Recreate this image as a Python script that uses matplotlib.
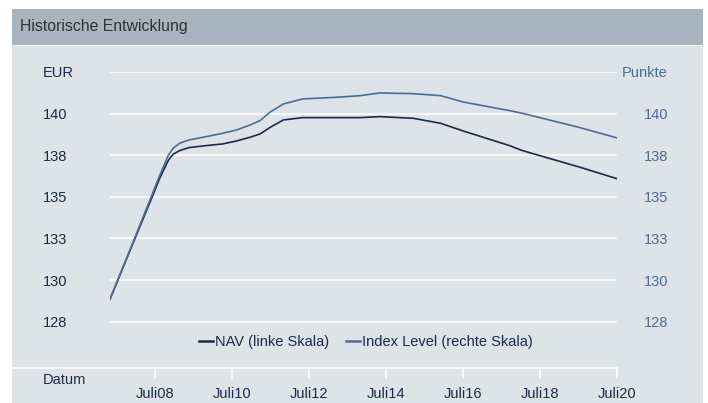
import numpy as np
import pandas as pd
import matplotlib
matplotlib.use('Agg')
import matplotlib.pyplot as plt
from matplotlib.patches import Rectangle
from matplotlib.lines import Line2D

plt.rcParams['font.family'] = ['Liberation Sans', 'DejaVu Sans']

# Data
dates = pd.to_datetime(['2007-05-01', '2007-12-01', '2008-06-01', '2008-08-15', '2008-11-05',
                        '2008-12-20', '2009-02-20', '2009-05-20', '2009-11-01', '2010-04-05',
                        '2010-08-15', '2010-12-20', '2011-03-25', '2011-06-25', '2011-11-01',
                        '2012-05-01', '2013-03-15', '2013-11-01', '2014-05-01', '2015-03-15',
                        '2015-12-01', '2016-07-01', '2017-09-15', '2018-01-15', '2019-07-15',
                        '2020-07-01'])
nav = [128.85, 132.15, 134.95, 136.12, 137.2, 137.56, 137.78, 137.96, 138.08, 138.18,
       138.36, 138.58, 138.78, 139.16, 139.62, 139.76, 139.76, 139.76, 139.82, 139.72,
       139.42, 138.96, 138.08, 137.78, 136.78, 136.09]
index_level = [128.85, 132.2, 135.1, 136.3, 137.5, 137.92, 138.22, 138.42, 138.62, 138.82,
               139.02, 139.32, 139.58, 140.08, 140.58, 140.88, 140.98, 141.08, 141.24, 141.2,
               141.08, 140.7, 140.18, 140.02, 139.16, 138.54]

y_ticks = [127.5, 130, 132.5, 135, 137.5, 140, 142.5]
left_labels = ['128', '130', '133', '135', '138', '140', 'EUR']
right_labels = ['128', '130', '133', '135', '138', '140', 'Punkte']
x_ticks = pd.to_datetime(['2008-07-01', '2010-07-01', '2012-07-01', '2014-07-01',
                          '2016-07-01', '2018-07-01', '2020-07-01'])
x_labels = ['Juli08', 'Juli10', 'Juli12', 'Juli14', 'Juli16', 'Juli18', 'Juli20']

navy = '#1b2a4e'
blue = '#4a6d9b'
body_bg = '#dde3e7'
head_bg = '#a7b4be'
fs = 10.5

W, H = 708, 403
fig = plt.figure(figsize=(W / 100, H / 100), dpi=100)
fig.patch.set_facecolor('white')

# panel and header
fig.add_artist(Rectangle((12 / W, 0), (703 - 12) / W, (H - 9) / H,
                         transform=fig.transFigure, facecolor=body_bg, edgecolor='none', zorder=0))
fig.add_artist(Rectangle((12 / W, (H - 45) / H), (703 - 12) / W, 36 / H,
                         transform=fig.transFigure, facecolor=head_bg, edgecolor='none', zorder=0))
fig.add_artist(Line2D([12 / W, 703 / W], [(H - 45) / H] * 2, transform=fig.transFigure,
                      color='#eef1f3', lw=0.8, zorder=1))
fig.text(20 / W, (H - 27) / H, 'Historische Entwicklung', fontsize=11.4, color='#333333',
         ha='left', va='center')

ax = fig.add_axes([110 / W, 35 / H, (617 - 110) / W, (368 - 72) / H])
ax.patch.set_visible(False)
ylo = 127.5 - (368 - 321.7) / (41.6 / 2.5)
ax.set_ylim(ylo, 142.5)
ax.set_xlim(dates[0], dates[-1])
for s in ax.spines.values():
    s.set_visible(False)

ax.set_yticks(y_ticks)
ax.set_yticklabels(left_labels)
ax.tick_params(axis='y', length=0, pad=67 / 1.389, labelsize=fs, labelcolor=navy)
for t in ax.get_yticklabels():
    t.set_horizontalalignment('left')
ax.grid(axis='y', color='white', lw=1.1)
ax.set_axisbelow(True)

ax.set_xticks(x_ticks)
ax.set_xticklabels(x_labels)
ax.tick_params(axis='x', length=8, width=1.2, color='white', pad=5.5, labelsize=fs, labelcolor=navy)

ax2 = ax.twinx()
ax2.set_ylim(ylo, 142.5)
for s in ax2.spines.values():
    s.set_visible(False)
ax2.set_yticks(y_ticks)
ax2.set_yticklabels(right_labels)
ax2.tick_params(axis='y', length=0, pad=51 / 1.389, labelsize=fs, labelcolor=blue)
for t in ax2.get_yticklabels():
    t.set_horizontalalignment('right')

l1, = ax.plot(dates, nav, color=navy, lw=1.2, label='NAV (linke Skala)', zorder=3)
l2, = ax2.plot(dates, index_level, color=blue, lw=1.2, label='Index Level (rechte Skala)', zorder=3)

# x axis line
fig.add_artist(Line2D([12 / W, 617 / W], [35 / H] * 2, transform=fig.transFigure,
                      color='white', lw=1.2, zorder=2))
fig.text(43 / W, (H - 380) / H, 'Datum', fontsize=fs, color=navy, ha='left', va='center')

leg = fig.legend(handles=[l1, l2], loc='center', bbox_to_anchor=(366 / W, (H - 342) / H),
                 ncol=2, frameon=False, fontsize=fs, handlelength=0.95, handletextpad=0.15,
                 columnspacing=1.15, labelcolor=navy)
for h in leg.legend_handles:
    h.set_linewidth(1.8)

fig.savefig('out.png', dpi=100, facecolor='white')
